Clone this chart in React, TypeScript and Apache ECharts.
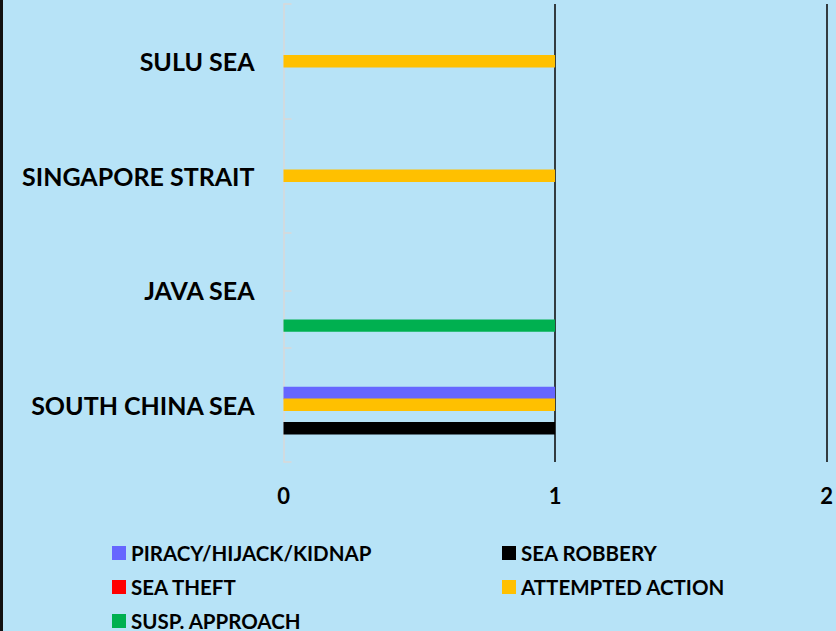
import React, { useEffect, useRef } from "react";
import * as echarts from "echarts";

const categories = ["SOUTH CHINA SEA", "JAVA SEA", "SINGAPORE STRAIT", "SULU SEA"];
const piracy = [1, 0, 0, 0];
const seaRobbery = [1, 0, 0, 0];
const seaTheft = [0, 0, 0, 0];
const attemptedAction = [1, 0, 1, 1];
const suspApproach = [0, 1, 0, 0];
const xTickValues = [0, 1, 2];

const FONT = "Lato";

export default function App() {
  const ref = useRef<HTMLDivElement>(null);
  useEffect(() => {
    if (!ref.current) return;
    const chart = echarts.init(ref.current, undefined, { renderer: "svg" });
    const gridBox = { left: 283.5, right: 8.5, top: 4, bottom: 169 };
    const barBase = { type: "bar", barWidth: 12.4, barGap: "-5%", xAxisIndex: 0, yAxisIndex: 0 };
    const legendText = { fontFamily: FONT, fontWeight: "bold", fontSize: 20.5, color: "#000", lineHeight: 18 };
    const option: any = {
      animation: false,
      backgroundColor: "#B7E3F7",
      textStyle: { fontFamily: FONT },
      grid: [
        { ...gridBox },
        { ...gridBox },
      ],
      xAxis: [
        {
          type: "value",
          gridIndex: 0,
          min: xTickValues[0],
          max: xTickValues[xTickValues.length - 1],
          interval: 1,
          axisLine: { show: false },
          axisTick: { show: false },
          axisLabel: { fontFamily: FONT, fontWeight: "bold", fontSize: 22, color: "#000", margin: 22 },
          splitLine: { show: true, lineStyle: { color: ["rgba(0,0,0,0)", "#111", "#111"], width: 1.6 } },
        },
        { type: "value", gridIndex: 1, min: 0, max: 8, show: false },
      ],
      yAxis: [
        {
          type: "category",
          gridIndex: 0,
          data: categories,
          axisLine: { show: false },
          axisTick: { show: false },
          axisLabel: { fontFamily: FONT, fontWeight: "bold", fontSize: 25, color: "#000", margin: 29 },
        },
        {
          type: "value",
          gridIndex: 1,
          min: 0,
          max: 8,
          interval: 1,
          axisLine: { show: true, lineStyle: { color: "#D9D9D9", width: 1.5 } },
          axisTick: { show: true, inside: true, length: 8, lineStyle: { color: "#D9D9D9", width: 1.5 } },
          axisLabel: { show: false },
          splitLine: { show: false },
        },
      ],
      legend: [
        {
          data: ["PIRACY/HIJACK/KIDNAP", "SEA THEFT", "SUSP. APPROACH"],
          orient: "vertical",
          left: 112,
          top: 542.5,
          height: 140,
          padding: 0,
          icon: "rect",
          itemWidth: 14,
          itemHeight: 14,
          itemGap: 13,
          textStyle: legendText,
        },
        {
          data: ["SEA ROBBERY", "ATTEMPTED ACTION"],
          orient: "vertical",
          left: 502,
          top: 542.5,
          height: 140,
          padding: 0,
          icon: "rect",
          itemWidth: 14,
          itemHeight: 14,
          itemGap: 13,
          textStyle: legendText,
        },
      ],
      graphic: [
        { type: "rect", left: 0, top: 0, shape: { width: 3, height: 631 }, style: { fill: "#111" } },
      ],
      series: [
        { ...barBase, name: "spacerA", data: [], silent: true },
        { ...barBase, name: "spacerB", data: [], silent: true },
        { ...barBase, name: "PIRACY/HIJACK/KIDNAP", data: piracy, itemStyle: { color: "#6666FF" } },
        { ...barBase, name: "ATTEMPTED ACTION", data: attemptedAction, itemStyle: { color: "#FFC000" } },
        { ...barBase, name: "SEA THEFT", data: seaTheft, itemStyle: { color: "#FF0000" } },
        { ...barBase, name: "SEA ROBBERY", data: seaRobbery, itemStyle: { color: "#000000" } },
        { ...barBase, name: "SUSP. APPROACH", data: suspApproach, itemStyle: { color: "#00B050" } },
      ],
    };
    chart.setOption(option);
    return () => chart.dispose();
  }, []);
  return (
    <div
      ref={ref}
      style={{ position: "absolute", left: 0, top: 0, width: 836, height: 631 }}
    />
  );
}
